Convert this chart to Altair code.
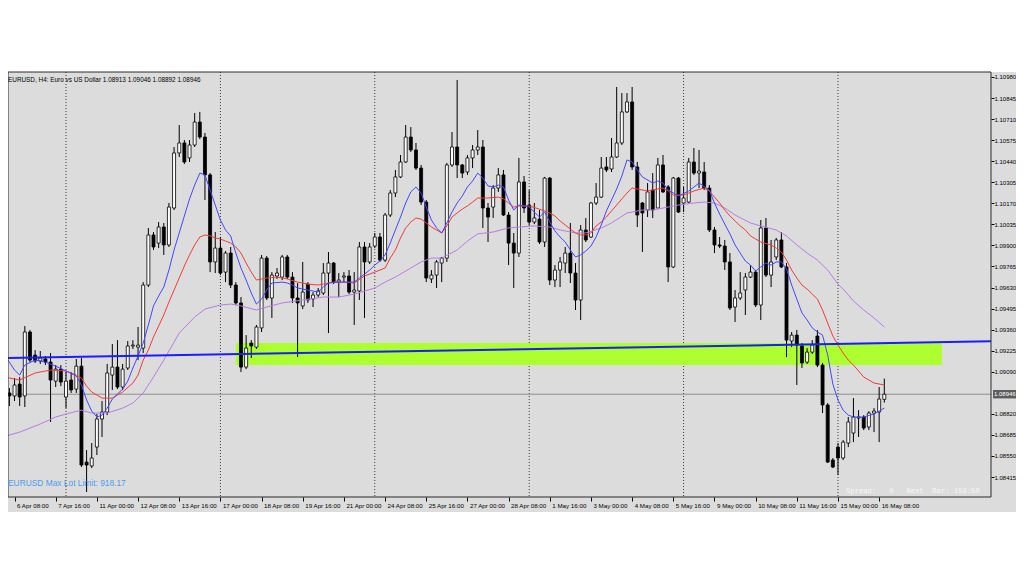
import altair as alt
import pandas as pd

# ---------------- data ----------------
header_text = ["EURUSD, H4:  Euro vs US Dollar  1.08913 1.09046 1.08892 1.08946"]
lot_text = ["EURUSD Max Lot Limit: 918.17"]
status_text = ["Spread:\u00a0\u00a0\u00a00\u00a0\u00a0\u00a0Next\u00a0\u00a0Bar:\u00a0159:50"]

opens = [1.09082, 1.08954, 1.08935, 1.09011, 1.08935, 1.09345, 1.09197, 1.09159, 1.09172, 1.09152,
         1.09030, 1.09107, 1.08928, 1.09037, 1.08979, 1.09126, 1.08511, 1.08486, 1.08607, 1.08787,
         1.08832, 1.09069, 1.09120, 1.08992, 1.09114, 1.09255, 1.09248, 1.09242, 1.09646, 1.09967,
         1.09915, 1.10018, 1.09903, 1.10140, 1.10493, 1.10557, 1.10461, 1.10544, 1.10691, 1.10595,
         1.10352, 1.09794, 1.09883, 1.09729, 1.09851, 1.09646, 1.09531, 1.09120, 1.09274, 1.09248,
         1.09371, 1.09819, 1.09563, 1.09704, 1.09697, 1.09826, 1.09697, 1.09563, 1.09512, 1.09652,
         1.09557, 1.09582, 1.09595, 1.09723, 1.09787, 1.09665, 1.09697, 1.09704, 1.09601, 1.09608,
         1.09890, 1.09794, 1.09896, 1.09954, 1.09806, 1.10095, 1.10236, 1.10339, 1.10435, 1.10595,
         1.10512, 1.10396, 1.10178, 1.09685, 1.09710, 1.09787, 1.09819, 1.10416, 1.10531, 1.10416,
         1.10371, 1.10461, 1.10512, 1.10531, 1.10140, 1.10146, 1.10268, 1.10352, 1.10095, 1.09915,
         1.09851, 1.10307, 1.10159, 1.10050, 1.10069, 1.09922, 1.10332, 1.09678, 1.09742, 1.09787,
         1.09851, 1.09723, 1.09550, 1.09999, 1.09954, 1.10172, 1.10210, 1.10403, 1.10390, 1.10467,
         1.10557, 1.10756, 1.10820, 1.10403, 1.10172, 1.10127, 1.10255, 1.10140, 1.10416, 1.10275,
         1.09762, 1.10332, 1.10172, 1.10178, 1.10435, 1.10364, 1.10371, 1.10268, 1.09999, 1.09903,
         1.09896, 1.09794, 1.09505, 1.09563, 1.09614, 1.09697, 1.09729, 1.09518, 1.10012, 1.09710,
         1.09826, 1.09935, 1.09762, 1.09287, 1.09325, 1.09255, 1.09152, 1.09216, 1.09319, 1.09133,
         1.08877, 1.08524, 1.08607, 1.08537, 1.08633, 1.08697, 1.08793, 1.08800, 1.08736, 1.08825,
         1.08832, 1.08913]
highs = [1.09088, 1.08986, 1.09050, 1.09056, 1.09383, 1.09358, 1.09229, 1.09223, 1.09191, 1.09210,
         1.09133, 1.09133, 1.09088, 1.09088, 1.09172, 1.09178, 1.08588, 1.08633, 1.08819, 1.08902,
         1.09140, 1.09268, 1.09293, 1.09140, 1.09287, 1.09293, 1.09377, 1.09665, 1.10012, 1.09986,
         1.10050, 1.10044, 1.10172, 1.10531, 1.10672, 1.10576, 1.10576, 1.10749, 1.10756, 1.10621,
         1.10364, 1.09986, 1.09954, 1.09864, 1.09890, 1.09665, 1.09569, 1.09325, 1.09293, 1.09390,
         1.09839, 1.09832, 1.09729, 1.09755, 1.09839, 1.09839, 1.09729, 1.09659, 1.09794, 1.09665,
         1.09601, 1.09627, 1.09787, 1.09858, 1.09794, 1.09723, 1.09729, 1.09742, 1.09729, 1.09922,
         1.09922, 1.09915, 1.09980, 1.09980, 1.10108, 1.10255, 1.10384, 1.10480, 1.10672, 1.10659,
         1.10557, 1.10416, 1.10191, 1.09742, 1.09806, 1.09826, 1.10429, 1.10627, 1.10961, 1.10422,
         1.10480, 1.10544, 1.10640, 1.10576, 1.10172, 1.10287, 1.10396, 1.10384, 1.10114, 1.09980,
         1.10461, 1.10345, 1.10255, 1.10172, 1.10127, 1.10339, 1.10339, 1.09774, 1.09826, 1.09890,
         1.10044, 1.09787, 1.10031, 1.10076, 1.10178, 1.10300, 1.10467, 1.10467, 1.10589, 1.10916,
         1.10877, 1.10877, 1.10916, 1.10435, 1.10178, 1.10300, 1.10364, 1.10461, 1.10480, 1.10287,
         1.10339, 1.10339, 1.10275, 1.10461, 1.10525, 1.10512, 1.10435, 1.10287, 1.10018, 1.09954,
         1.09935, 1.09851, 1.09614, 1.09729, 1.09723, 1.09774, 1.09742, 1.10063, 1.10076, 1.09935,
         1.09948, 1.09986, 1.09787, 1.09345, 1.09358, 1.09274, 1.09242, 1.09293, 1.09358, 1.09146,
         1.08889, 1.08537, 1.08633, 1.08652, 1.08800, 1.08921, 1.08844, 1.08812, 1.08838, 1.08857,
         1.08992, 1.09046]
lows = [1.08928, 1.08870, 1.08902, 1.08870, 1.08864, 1.09152, 1.09146, 1.09140, 1.09133, 1.08768,
        1.08992, 1.08998, 1.08857, 1.08954, 1.08954, 1.08479, 1.08319, 1.08473, 1.08556, 1.08672,
        1.08812, 1.08973, 1.08979, 1.08973, 1.09101, 1.09236, 1.09165, 1.09210, 1.09633, 1.09871,
        1.09883, 1.09839, 1.09890, 1.10127, 1.10467, 1.10422, 1.10435, 1.10531, 1.10582, 1.10191,
        1.09729, 1.09723, 1.09710, 1.09665, 1.09627, 1.09518, 1.09088, 1.09107, 1.09178, 1.09236,
        1.09345, 1.09550, 1.09435, 1.09685, 1.09678, 1.09685, 1.09531, 1.09184, 1.09492, 1.09531,
        1.09505, 1.09569, 1.09582, 1.09338, 1.09652, 1.09569, 1.09665, 1.09588, 1.09390, 1.09550,
        1.09435, 1.09781, 1.09883, 1.09794, 1.09794, 1.10082, 1.10210, 1.10332, 1.10429, 1.10499,
        1.10384, 1.10159, 1.09665, 1.09659, 1.09627, 1.09665, 1.09794, 1.10403, 1.10332, 1.10332,
        1.10352, 1.10396, 1.10480, 1.10012, 1.09922, 1.10076, 1.10243, 1.10089, 1.09774, 1.09627,
        1.09826, 1.10108, 1.10031, 1.10037, 1.09909, 1.09890, 1.09646, 1.09633, 1.09633, 1.09723,
        1.09659, 1.09486, 1.09422, 1.09922, 1.09948, 1.10159, 1.10204, 1.10371, 1.10371, 1.10461,
        1.10544, 1.10749, 1.10384, 1.10018, 1.09858, 1.10082, 1.10076, 1.10243, 1.10236, 1.09665,
        1.09755, 1.10108, 1.10114, 1.10172, 1.10352, 1.10268, 1.10255, 1.09986, 1.09851, 1.09883,
        1.09742, 1.09486, 1.09409, 1.09550, 1.09454, 1.09691, 1.09505, 1.09422, 1.09697, 1.09633,
        1.09806, 1.09755, 1.09184, 1.09248, 1.09005, 1.09114, 1.09140, 1.09204, 1.09120, 1.08825,
        1.08505, 1.08473, 1.08428, 1.08524, 1.08607, 1.08639, 1.08672, 1.08716, 1.08716, 1.08703,
        1.08639, 1.08892]
closes = [1.08941, 1.08935, 1.09005, 1.08928, 1.09345, 1.09165, 1.09159, 1.09178, 1.09152, 1.09037,
          1.09107, 1.09024, 1.09030, 1.08973, 1.09126, 1.08492, 1.08492, 1.08537, 1.08787, 1.08832,
          1.09082, 1.09120, 1.08992, 1.09107, 1.09255, 1.09261, 1.09261, 1.09646, 1.09967, 1.09890,
          1.10018, 1.09903, 1.10146, 1.10493, 1.10557, 1.10435, 1.10544, 1.10691, 1.10595, 1.10352,
          1.09794, 1.09883, 1.09723, 1.09851, 1.09646, 1.09531, 1.09120, 1.09242, 1.09255, 1.09377,
          1.09819, 1.09563, 1.09710, 1.09723, 1.09826, 1.09697, 1.09563, 1.09531, 1.09601, 1.09550,
          1.09582, 1.09608, 1.09723, 1.09787, 1.09665, 1.09678, 1.09704, 1.09601, 1.09614, 1.09890,
          1.09794, 1.09890, 1.09954, 1.09806, 1.10095, 1.10236, 1.10339, 1.10435, 1.10595, 1.10512,
          1.10396, 1.10178, 1.09691, 1.09710, 1.09794, 1.09819, 1.10416, 1.10531, 1.10416, 1.10364,
          1.10461, 1.10512, 1.10531, 1.10140, 1.10082, 1.10268, 1.10352, 1.10095, 1.09915, 1.09851,
          1.10307, 1.10140, 1.10050, 1.10076, 1.09922, 1.10332, 1.09678, 1.09742, 1.09794, 1.09851,
          1.09723, 1.09550, 1.09999, 1.09935, 1.10172, 1.10210, 1.10396, 1.10384, 1.10467, 1.10557,
          1.10756, 1.10820, 1.10403, 1.10095, 1.10108, 1.10243, 1.10127, 1.10416, 1.10243, 1.09762,
          1.10332, 1.10114, 1.10204, 1.10435, 1.10364, 1.10377, 1.10268, 1.09999, 1.09903, 1.09896,
          1.09794, 1.09499, 1.09563, 1.09595, 1.09697, 1.09729, 1.09518, 1.10012, 1.09710, 1.09794,
          1.09935, 1.09762, 1.09293, 1.09325, 1.09261, 1.09146, 1.09216, 1.09261, 1.09133, 1.08877,
          1.08511, 1.08479, 1.08537, 1.08639, 1.08768, 1.08800, 1.08800, 1.08729, 1.08825, 1.08838,
          1.08915, 1.08946]

# fast moving average (blue), read at bar numbers
blue_idx = [-1, 1, 2, 3, 4, 6, 8, 10, 12, 14, 15, 16, 17, 18, 19, 20, 21, 22, 23, 24, 25, 26, 27, 28,
            29, 30, 31, 32, 33, 34, 35, 36, 37, 38, 39, 40, 41, 42, 43, 44, 45, 46, 47, 48, 49, 50, 51,
            52, 54, 55, 56, 57, 59, 61, 62, 63, 65, 67, 68, 69, 70, 71, 72, 73, 74, 75, 76, 77, 78, 79,
            80, 81, 82, 83, 84, 85, 86, 87, 88, 89, 90, 91, 92, 93, 94, 95, 96, 97, 98, 99, 100, 102,
            104, 105, 106, 107, 108, 109, 110, 111, 112, 113, 114, 115, 116, 117, 118, 119, 120, 121,
            122, 123, 124, 126, 127, 128, 129, 131, 133, 135, 137, 138, 139, 140, 141, 142, 143, 144,
            145, 146, 147, 148, 149, 150, 151, 152, 153, 154, 155, 156, 157, 158, 159, 160, 161, 162,
            163, 164, 165, 167, 169, 171]
blue_val = [1.09229, 1.09152, 1.09101, 1.09069, 1.09133, 1.09165, 1.09152, 1.09126, 1.09095, 1.09063,
            1.09005, 1.08909, 1.08838, 1.08800, 1.08812, 1.08857, 1.08915, 1.08947, 1.08979, 1.09030,
            1.09114, 1.09191, 1.09274, 1.09390, 1.09512, 1.09576, 1.09633, 1.09742, 1.09871, 1.09980,
            1.10089, 1.10198, 1.10287, 1.10364, 1.10352, 1.10255, 1.10159, 1.10063, 1.09999, 1.09960,
            1.09851, 1.09755, 1.09678, 1.09595, 1.09524, 1.09556, 1.09614, 1.09659, 1.09665, 1.09659,
            1.09646, 1.09627, 1.09614, 1.09601, 1.09633, 1.09659, 1.09665, 1.09665, 1.09665, 1.09691,
            1.09716, 1.09742, 1.09774, 1.09800, 1.09839, 1.09915, 1.09999, 1.10082, 1.10172, 1.10243,
            1.10275, 1.10236, 1.10146, 1.10063, 1.10012, 1.09980, 1.10044, 1.10114, 1.10172, 1.10217,
            1.10275, 1.10313, 1.10364, 1.10332, 1.10281, 1.10275, 1.10287, 1.10275, 1.10191, 1.10127,
            1.10159, 1.10146, 1.10082, 1.10114, 1.10050, 1.09993, 1.09954, 1.09922, 1.09871, 1.09826,
            1.09839, 1.09864, 1.09896, 1.09954, 1.10031, 1.10121, 1.10191, 1.10262, 1.10345, 1.10448,
            1.10435, 1.10384, 1.10339, 1.10300, 1.10313, 1.10300, 1.10255, 1.10217, 1.10249, 1.10300,
            1.10255, 1.10172, 1.10101, 1.10037, 1.09974, 1.09903, 1.09851, 1.09800, 1.09774, 1.09736,
            1.09762, 1.09787, 1.09774, 1.09794, 1.09794, 1.09749, 1.09646, 1.09556, 1.09467, 1.09422,
            1.09371, 1.09345, 1.09325, 1.09197, 1.09011, 1.08909, 1.08844, 1.08812, 1.08800, 1.08800,
            1.08819, 1.08857]

# medium moving average (red)
red_idx = [-1, 1, 3, 6, 9, 12, 14, 15, 16, 17, 19, 21, 22, 23, 25, 26, 27, 28, 29, 30, 31, 32, 33, 34,
           35, 36, 37, 38, 39, 40, 41, 42, 43, 44, 45, 46, 47, 48, 49, 50, 51, 53, 55, 57, 59, 61, 62,
           64, 66, 68, 70, 72, 74, 75, 76, 77, 78, 79, 80, 81, 82, 83, 84, 85, 86, 87, 88, 89, 90, 91,
           92, 94, 96, 97, 98, 99, 100, 102, 104, 106, 107, 108, 109, 110, 111, 112, 113, 114, 115,
           116, 117, 118, 119, 120, 121, 122, 123, 125, 127, 128, 129, 130, 132, 134, 136, 137, 138,
           139, 140, 141, 142, 143, 144, 145, 146, 147, 149, 150, 151, 152, 153, 154, 155, 156, 157,
           158, 159, 160, 161, 162, 163, 164, 165, 166, 167, 168, 169, 171]
red_val = [1.09056, 1.09050, 1.09037, 1.09082, 1.09101, 1.09095, 1.09069, 1.09050, 1.08998, 1.08960,
           1.08921, 1.08921, 1.08941, 1.08960, 1.09018, 1.09069, 1.09165, 1.09229, 1.09313, 1.09383,
           1.09454, 1.09537, 1.09614, 1.09691, 1.09768, 1.09839, 1.09903, 1.09954, 1.09967, 1.09961,
           1.09948, 1.09941, 1.09928, 1.09915, 1.09890, 1.09851, 1.09787, 1.09729, 1.09678, 1.09685,
           1.09691, 1.09697, 1.09685, 1.09665, 1.09652, 1.09646, 1.09652, 1.09665, 1.09665, 1.09659,
           1.09704, 1.09729, 1.09755, 1.09819, 1.09871, 1.09948, 1.10012, 1.10050, 1.10076, 1.10069,
           1.10044, 1.10018, 1.09999, 1.09980, 1.10025, 1.10082, 1.10108, 1.10133, 1.10153, 1.10178,
           1.10204, 1.10204, 1.10210, 1.10198, 1.10172, 1.10146, 1.10153, 1.10153, 1.10133, 1.10108,
           1.10089, 1.10057, 1.10031, 1.10005, 1.09980, 1.09967, 1.09967, 1.09980, 1.10025, 1.10050,
           1.10082, 1.10121, 1.10159, 1.10198, 1.10236, 1.10268, 1.10262, 1.10249, 1.10262, 1.10268,
           1.10249, 1.10223, 1.10223, 1.10249, 1.10268, 1.10249, 1.10210, 1.10172, 1.10127, 1.10089,
           1.10057, 1.10025, 1.09999, 1.09961, 1.09941, 1.09922, 1.09903, 1.09883, 1.09858, 1.09806,
           1.09742, 1.09691, 1.09646, 1.09620, 1.09588, 1.09556, 1.09486, 1.09402, 1.09319, 1.09261,
           1.09210, 1.09165, 1.09133, 1.09095, 1.09056, 1.09037, 1.09018, 1.09005]

# slow moving average (purple)
purple_idx = [-1, 3, 7, 10, 12, 15, 17, 20, 23, 25, 27, 29, 31, 34, 37, 39, 42, 44, 46, 49, 51, 54,
              58, 62, 65, 68, 72, 74, 76, 79, 81, 83, 85, 88, 90, 92, 95, 98, 100, 103, 106, 108,
              111, 113, 116, 118, 121, 124, 126, 129, 131, 134, 136, 138, 140, 142, 145, 147, 150,
              152, 154, 156, 158, 160, 162, 163, 165, 167, 169, 171]
purple_val = [1.08665, 1.08703, 1.08755, 1.08800, 1.08819, 1.08844, 1.08825, 1.08825, 1.08857, 1.08889,
              1.08954, 1.09056, 1.09165, 1.09338, 1.09441, 1.09492, 1.09518, 1.09524, 1.09512, 1.09486,
              1.09505, 1.09531, 1.09550, 1.09569, 1.09569, 1.09588, 1.09627, 1.09665, 1.09697, 1.09755,
              1.09794, 1.09819, 1.09819, 1.09871, 1.09928, 1.09974, 1.09986, 1.10012, 1.10018, 1.10025,
              1.10018, 1.09999, 1.09980, 1.09980, 1.10012, 1.10044, 1.10108, 1.10127, 1.10127, 1.10146,
              1.10159, 1.10172, 1.10178, 1.10172, 1.10140, 1.10095, 1.10044, 1.10025, 1.09999, 1.09961,
              1.09903, 1.09851, 1.09806, 1.09742, 1.09652, 1.09620, 1.09544, 1.09486, 1.09435, 1.09377]

# time axis labels (every 8th H4 bar) and weekly separators
time_tick_idx = [2, 10, 18, 26, 34, 42, 50, 58, 66, 74, 82, 90, 98, 106, 114, 122, 130, 138, 146,
                 154, 162, 170]
time_tick_labels = ["6 Apr 08:00", "7 Apr 16:00", "11 Apr 00:00", "12 Apr 08:00", "13 Apr 16:00",
                    "17 Apr 00:00", "18 Apr 08:00", "19 Apr 16:00", "21 Apr 00:00", "24 Apr 08:00",
                    "25 Apr 16:00", "27 Apr 00:00", "28 Apr 08:00", "1 May 16:00", "3 May 00:00",
                    "4 May 08:00", "5 May 16:00", "9 May 00:00", "10 May 08:00", "11 May 16:00",
                    "15 May 00:00", "16 May 08:00"]
separator_idx = [12, 42, 72, 102, 132, 162]
price_ticks = [1.10980, 1.10845, 1.10710, 1.10575, 1.10440, 1.10305, 1.10170, 1.10035, 1.09900,
               1.09765, 1.09630, 1.09495, 1.09360, 1.09225, 1.09090, 1.08820, 1.08685, 1.08550,
               1.08415]
current_price = [1.08946]
current_label = ["1.08946"]

# support zone (green rectangle) and trendline (thick blue)
zone_start, zone_end = [45.0], [182.2]
zone_low, zone_high = [1.09133], [1.09274]
trend_idx = [-1, 192]
trend_val = [1.09178, 1.09285]

# ---------------- chart ----------------
W, H = 983, 425
RIGHT = 25
GREY = "#dcdcdc"
FONT = "Liberation Sans"

xs = alt.Scale(domain=[0.7306, 191.73], nice=False, zero=False, padding=0)
ys = alt.Scale(domain=[1.08287, 1.11012], nice=False, zero=False, padding=0)

label_expr = "[" + ",".join("'%s'" % s for s in time_tick_labels) + "][(datum.value - 2) / 8]"
x_axis = alt.Axis(values=time_tick_idx, labelExpr=label_expr, orient="bottom", title=None,
                  grid=False, domain=False, ticks=True, tickSize=4, tickColor="#000000",
                  labelFont=FONT, labelFontSize=6.2, labelColor="#000000", labelAlign="left",
                  labelBaseline="top", labelPadding=1, labelOffset=2, labelOverlap=False,
                  labelFlush=False, zindex=1)
y_axis = alt.Axis(values=price_ticks, orient="right", title=None, format=".5f", grid=False,
                  domain=False, ticks=True, tickSize=3, tickColor="#000000", labelFont=FONT,
                  labelFontSize=6, labelColor="#000000", labelPadding=0, labelOverlap=False,
                  labelFlush=False, zindex=1)

bars = pd.DataFrame({"i": list(range(len(opens))), "o": opens, "h": highs, "l": lows, "c": closes})
ma = pd.concat([
    pd.DataFrame({"i": purple_idx, "v": purple_val, "s": "slow"}),
    pd.DataFrame({"i": red_idx, "v": red_val, "s": "medium"}),
    pd.DataFrame({"i": blue_idx, "v": blue_val, "s": "fast"}),
])
one = pd.DataFrame({"k": [0]})

bg = alt.Chart(one).mark_rect(color=GREY, clip=False).encode(
    x=alt.value(-8), x2=alt.value(W + RIGHT), y=alt.value(0), y2=alt.value(H + 15))

seps = alt.Chart(pd.DataFrame({"i": separator_idx})).mark_rule(
    color="#3a3a3a", strokeWidth=1, strokeDash=[1, 2]).encode(
    x=alt.X("i:Q", scale=xs, axis=x_axis))

zone = alt.Chart(pd.DataFrame({"a": zone_start, "b": zone_end, "lo": zone_low, "hi": zone_high})).mark_rect(
    color="#adff2f", clip=True).encode(
    x=alt.X("a:Q", scale=xs, axis=x_axis), x2="b:Q",
    y=alt.Y("lo:Q", scale=ys, axis=y_axis), y2="hi:Q")

price_line = alt.Chart(pd.DataFrame({"p": current_price})).mark_rule(
    color="#8f8f8f", strokeWidth=1).encode(y=alt.Y("p:Q", scale=ys, axis=y_axis))

wicks = alt.Chart(bars).mark_rule(color="#000000", strokeWidth=1, clip=True).encode(
    x=alt.X("i:Q", scale=xs, axis=x_axis),
    y=alt.Y("l:Q", scale=ys, axis=y_axis), y2="h:Q")

bodies = alt.Chart(bars).mark_bar(size=3, stroke="#000000", strokeWidth=0.8, clip=True).encode(
    x=alt.X("i:Q", scale=xs, axis=x_axis),
    y=alt.Y("o:Q", scale=ys, axis=y_axis), y2="c:Q",
    fill=alt.condition("datum.c >= datum.o", alt.value("#ffffff"), alt.value("#000000")))

lines = alt.Chart(ma).mark_line(strokeWidth=1, clip=True).encode(
    x=alt.X("i:Q", scale=xs, axis=x_axis),
    y=alt.Y("v:Q", scale=ys, axis=y_axis),
    color=alt.Color("s:N", scale=alt.Scale(domain=["slow", "medium", "fast"],
                                             range=["#b47ee0", "#f03c3c", "#4646ff"]), legend=None),
    detail="s:N")

trend = alt.Chart(pd.DataFrame({"i": trend_idx, "v": trend_val})).mark_line(
    color="#1c1cff", strokeWidth=2, clip=True).encode(
    x=alt.X("i:Q", scale=xs, axis=x_axis), y=alt.Y("v:Q", scale=ys, axis=y_axis))

frame = alt.Chart(one).mark_rect(filled=False, stroke="#2a2a2a", strokeWidth=1, clip=False).encode(
    x=alt.value(0), x2=alt.value(W), y=alt.value(0), y2=alt.value(H))

header = alt.Chart(pd.DataFrame({"t": header_text})).mark_text(
    align="left", baseline="middle", font=FONT, fontSize=6.4, color="#000000", clip=False).encode(
    x=alt.value(0), y=alt.value(8), text="t:N")

lot = alt.Chart(pd.DataFrame({"t": lot_text})).mark_text(
    align="left", baseline="middle", font=FONT, fontSize=8.4, color="#4a9cf0", clip=False).encode(
    x=alt.value(0), y=alt.value(411), text="t:N")

status = alt.Chart(pd.DataFrame({"t": status_text})).mark_text(
    align="left", baseline="middle", font="Liberation Mono", fontSize=7.2, color="#f6f6f6",
    clip=False).encode(x=alt.value(838), y=alt.value(419), text="t:N")

cur_box = alt.Chart(pd.DataFrame({"p": current_price})).mark_point(
    shape="M-1,-0.3H1V0.3H-1Z", size=784, filled=True, opacity=1, color="#5c5c5c",
    clip=False).encode(x=alt.value(W + 16), y=alt.Y("p:Q", scale=ys, axis=y_axis))

cur_txt = alt.Chart(pd.DataFrame({"p": current_price, "t": current_label})).mark_text(
    align="left", baseline="middle", font=FONT, fontSize=6, color="#ffffff", clip=False).encode(
    x=alt.value(W + 3), y=alt.Y("p:Q", scale=ys, axis=y_axis), text="t:N")

chart = alt.layer(
    bg, seps, zone, price_line, wicks, bodies, lines, trend, frame, header, lot, status, cur_box, cur_txt
).properties(
    width=W, height=H, background="#ffffff",
    autosize=alt.AutoSizeParams(type="none"),
    padding={"left": 0, "top": 64, "right": RIGHT, "bottom": 70},
).configure_view(strokeWidth=0)

chart.save("out.html", embed_options={"renderer": "svg", "actions": False})
